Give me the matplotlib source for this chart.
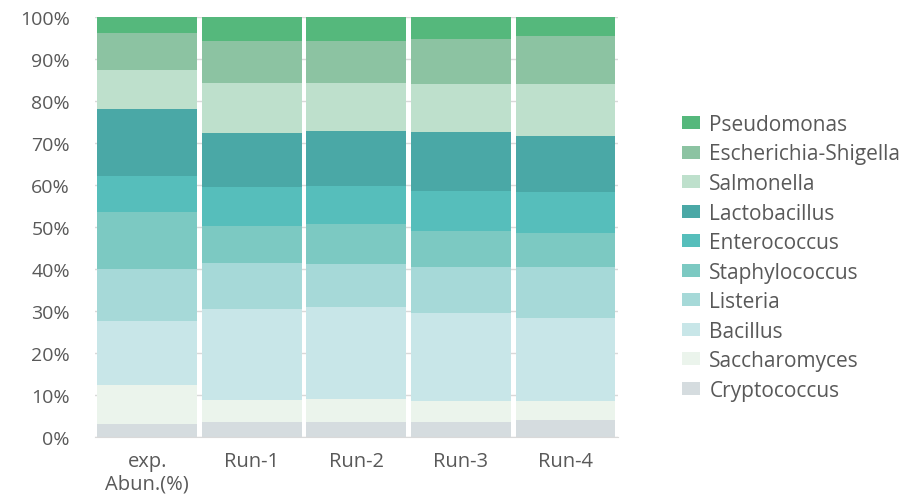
import matplotlib
matplotlib.use("Agg")
import matplotlib.pyplot as plt
import numpy as np

plt.rcParams['font.family'] = ['Open Sans', 'DejaVu Sans']

groups = ["exp.\nAbun.(%)", "Run-1", "Run-2", "Run-3", "Run-4"]

# bottom to top of the stack
species = ["Cryptococcus", "Saccharomyces", "Bacillus", "Listeria", "Staphylococcus",
           "Enterococcus", "Lactobacillus", "Salmonella", "Escherichia-Shigella", "Pseudomonas"]

cryptococcus = [3.1, 3.6, 3.6, 3.6, 4.0]
saccharomyces = [9.3, 5.2, 5.4, 5.0, 4.6]
bacillus = [15.2, 21.7, 22.0, 20.9, 19.7]
listeria = [12.4, 10.9, 10.2, 11.0, 12.2]
staphylococcus = [13.6, 8.8, 9.5, 8.5, 8.1]
enterococcus = [8.5, 9.4, 9.1, 9.6, 9.7]
lactobacillus = [16.0, 12.8, 13.1, 14.0, 13.4]
salmonella = [9.3, 11.9, 11.4, 11.4, 12.3]
escherichia = [8.8, 10.1, 10.0, 10.8, 11.5]
pseudomonas = [3.8, 5.6, 5.7, 5.2, 4.5]

colors = ["#D5DCDF", "#EBF4EC", "#C8E6E8", "#A6D9D8", "#7CC9C2",
          "#56BEBB", "#4AA8A6", "#BEE0CC", "#8CC3A2", "#55B87C"]

series = [cryptococcus, saccharomyces, bacillus, listeria, staphylococcus,
          enterococcus, lactobacillus, salmonella, escherichia, pseudomonas]

fig = plt.figure(figsize=(9.22, 5.02), dpi=100)
ax = fig.add_axes([0.103, 0.1275, 0.567, 0.8365])

x = np.arange(len(groups))
bottom = np.zeros(len(groups))
handles = []
for name, vals, c in zip(species, series, colors):
    vals = np.array(vals)
    b = ax.bar(x, vals, bottom=bottom, width=0.955, color=c, label=name, zorder=2)
    handles.append(b)
    bottom += vals

ax.set_xlim(-0.5, 4.5)
ax.set_ylim(0, 100)
ax.set_yticks(np.arange(0, 101, 10))
ax.set_yticklabels([f"{v}%" for v in range(0, 101, 10)])
ax.set_xticks(x)
ax.set_xticklabels(groups)
ax.grid(axis='y', color='#D9D9D9', linewidth=1, zorder=0)
for s in ['top', 'right', 'left']:
    ax.spines[s].set_visible(False)
ax.spines['bottom'].set_color('#D9D9D9')
ax.tick_params(axis='y', length=0, labelsize=14, labelcolor='#595959', pad=18)
ax.tick_params(axis='x', length=0, labelsize=14.5, labelcolor='#595959', pad=10)

fig.legend(handles[::-1], species[::-1], loc='upper left', bbox_to_anchor=(0.74, 0.771),
           frameon=False, fontsize=15, labelcolor='#595959',
           handlelength=0.87, handleheight=0.58, handletextpad=0.43, labelspacing=0.41,
           borderaxespad=0, borderpad=0)

fig.savefig("out.png", dpi=100)
